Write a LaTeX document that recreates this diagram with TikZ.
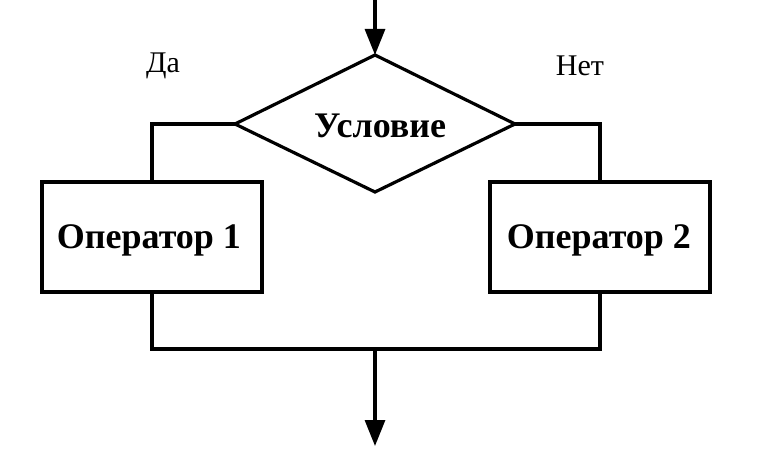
\documentclass[tikz,border=0pt]{standalone}
\usepackage{fontspec}
\setmainfont{Liberation Serif}
\usetikzlibrary{arrows.meta}
\begin{document}
\begin{tikzpicture}[x=1pt,y=-1pt,line width=3.2pt,
  box/.style={draw,minimum width=220pt,minimum height=110pt,inner sep=0pt},
  bt/.style={font=\fontsize{36}{40}\selectfont\bfseries},
  lbl/.style={font=\fontsize{30}{34}\selectfont},
  arr/.style={-{Triangle[length=26pt,width=20pt]}}]
\useasboundingbox (0,0) rectangle (782,454);
\fill[white] (0,0) rectangle (782,454);
\coordinate (top) at (375,0);
\coordinate (dt) at (375,55);
\coordinate (dl) at (235,124);
\coordinate (dr) at (515,124);
\coordinate (db) at (375,192);
\draw (dt) -- (dr) -- (db) -- (dl) -- cycle;
\node[bt] (c) at (380,126) {Условие};
\draw[arr] (top) -- (dt);
\node[box] (o1) at (152,237) {};
\node[box] (o2) at (600,237) {};
\node[bt] (t1) at (149,240) {Оператор 1};
\node[bt] (t2) at (599,240) {Оператор 2};
\draw (dl) -| (o1.north);
\draw (dr) -| (o2.north);
\coordinate (j) at (375,349);
\coordinate (e) at (375,446);
\draw (o1.south) |- (j) -| (o2.south);
\draw[arr] (j) -- (e);
\node[lbl] (da) at (163,66) {Да};
\node[lbl] (net) at (580,66) {Нет};
\end{tikzpicture}
\end{document}
